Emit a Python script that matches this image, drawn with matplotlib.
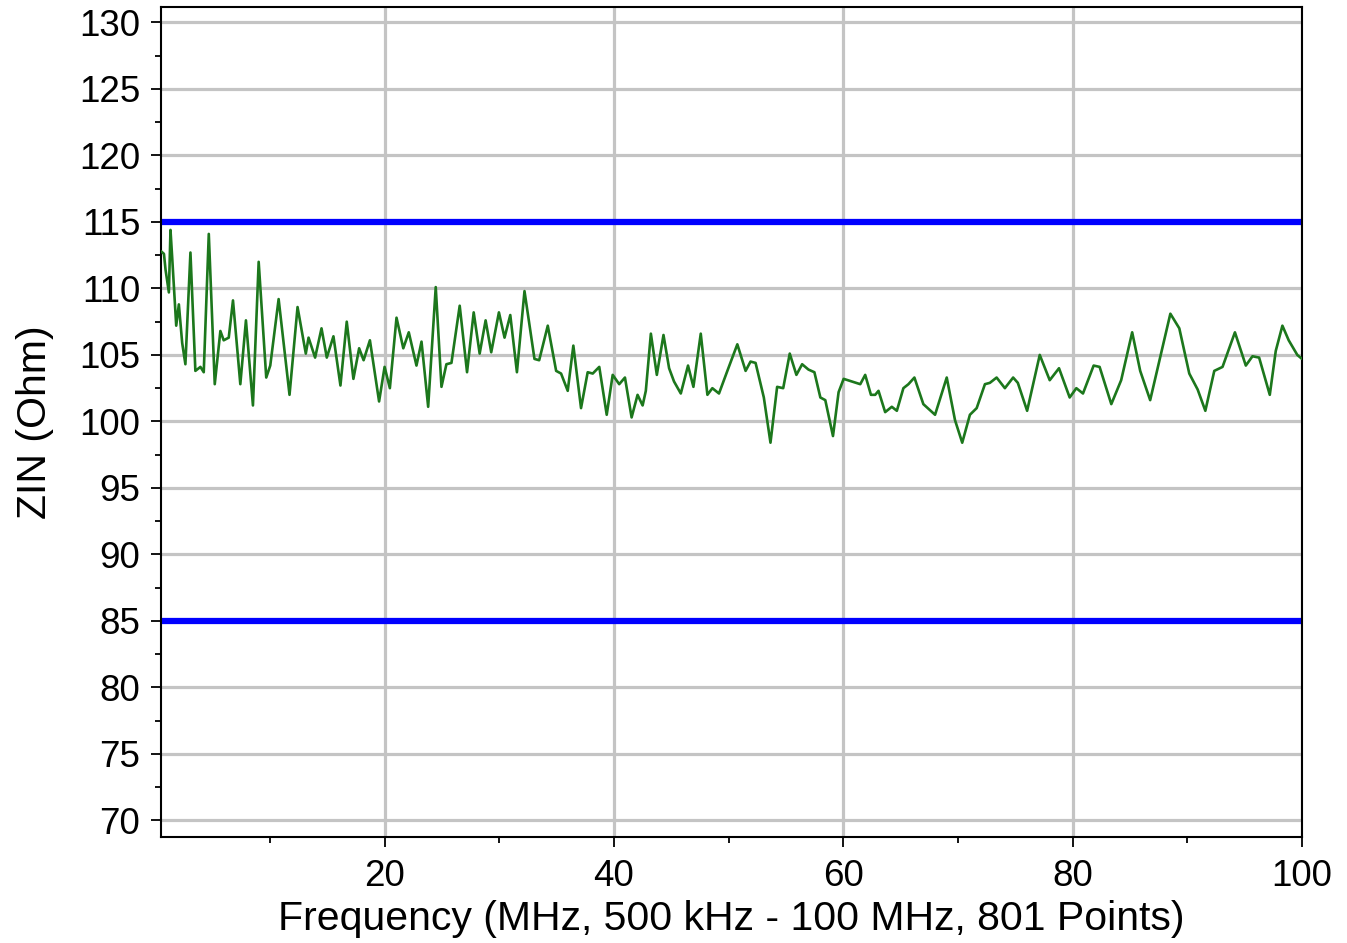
import matplotlib
matplotlib.use("Agg")
import matplotlib.pyplot as plt
from matplotlib.ticker import MultipleLocator

plt.rcParams['font.family'] = ['Liberation Sans', 'DejaVu Sans']

# Frequency (MHz) and input impedance (Ohm)
freq_mhz = [
    0.5, 0.76, 0.90, 1.19, 1.33, 1.48, 1.83, 2.06, 2.35, 2.63, 3.07, 3.50, 3.94,
    4.23, 4.67, 5.19, 5.68, 5.97, 6.41, 6.78, 7.42, 7.91, 8.52, 9.02, 9.68,
    10.03, 10.76, 11.71, 12.41, 13.13, 13.37, 13.94, 14.50, 14.96, 15.54,
    16.15, 16.70, 17.28, 17.78, 18.17, 18.72, 19.52, 20.0, 20.46, 21.04,
    21.63, 22.11, 22.78, 23.22, 23.80, 24.46, 24.96, 25.39, 25.83, 26.55,
    27.19, 27.77, 28.29, 28.81, 29.30, 29.97, 30.46, 30.96, 31.54, 32.20,
    33.07, 33.48, 34.23, 34.96, 35.39, 35.97, 36.46, 37.13, 37.71, 38.15,
    38.72, 39.37, 39.89, 40.46, 40.96, 41.54, 42.06, 42.50, 42.78, 43.22,
    43.74, 44.32, 44.81, 45.24, 45.83, 46.46, 46.93, 47.57, 48.15, 48.58,
    49.16, 49.89, 50.76, 51.48, 51.91, 52.35, 53.07, 53.65, 54.23, 54.76,
    55.33, 55.91, 56.41, 56.96, 57.48, 58.0, 58.43, 59.10, 59.59, 60.03,
    61.48, 61.91, 62.41, 62.78, 63.07, 63.65, 64.23, 64.67, 65.24, 65.68,
    66.20, 66.98, 68.0, 69.02, 69.74, 70.37, 71.04, 71.63, 72.35, 72.78,
    73.37, 74.09, 74.81, 75.22, 76.03, 76.55, 77.13, 78.0, 78.81, 79.74,
    80.32, 80.90, 81.83, 82.35, 83.37, 84.23, 85.19, 85.89, 86.76, 87.71,
    88.52, 89.30, 90.17, 90.90, 91.57, 92.35, 93.07, 94.15, 95.10, 95.68,
    96.26, 97.19, 97.71, 98.29, 98.84, 99.59, 100.0,
]
zin_ohm = [
    112.8, 112.6, 111.4, 109.7, 114.4, 112.3, 107.2, 108.8, 105.9, 104.3, 112.7, 103.8, 104.1,
    103.7, 114.1, 102.8, 106.8, 106.1, 106.3, 109.1, 102.8, 107.6, 101.2, 112.0, 103.3,
    104.2, 109.2, 102.0, 108.6, 105.1, 106.3, 104.8, 107.0, 104.8, 106.4,
    102.7, 107.5, 103.2, 105.5, 104.6, 106.1, 101.5, 104.1, 102.5, 107.8,
    105.5, 106.7, 104.2, 106.0, 101.1, 110.1, 102.6, 104.3, 104.4, 108.7,
    103.7, 108.2, 105.1, 107.6, 105.2, 108.2, 106.3, 108.0, 103.7, 109.8,
    104.7, 104.6, 107.2, 103.8, 103.6, 102.3, 105.7, 101.0, 103.7, 103.6,
    104.1, 100.5, 103.5, 102.8, 103.3, 100.3, 102.0, 101.2, 102.3, 106.6,
    103.5, 106.5, 104.0, 103.0, 102.1, 104.2, 102.6, 106.6, 102.0, 102.5,
    102.1, 103.8, 105.8, 103.8, 104.5, 104.4, 101.8, 98.4, 102.6, 102.5,
    105.1, 103.5, 104.3, 103.9, 103.7, 101.8, 101.6, 98.9, 102.2, 103.2,
    102.8, 103.5, 102.0, 102.0, 102.3, 100.7, 101.1, 100.8, 102.5, 102.8,
    103.3, 101.3, 100.5, 103.3, 100.1, 98.4, 100.5, 101.0, 102.8, 102.9,
    103.3, 102.5, 103.3, 102.9, 100.8, 102.8, 105.0, 103.1, 104.0, 101.8,
    102.5, 102.1, 104.2, 104.1, 101.3, 103.1, 106.7, 103.8, 101.6, 105.1,
    108.1, 107.0, 103.6, 102.4, 100.8, 103.8, 104.1, 106.7, 104.2, 104.9,
    104.8, 102.0, 105.3, 107.2, 106.1, 105.0, 104.7,
]
limit_upper = 115
limit_lower = 85
x_major_ticks = [20, 40, 60, 80, 100]
y_major_ticks = [70, 75, 80, 85, 90, 95, 100, 105, 110, 115, 120, 125, 130]

fig = plt.figure(figsize=(13.47, 9.43), dpi=100)
ax = fig.add_axes([0.1195, 0.1124, 0.8471, 0.8800])

ax.set_xlim(0.5, 100)
ax.set_ylim(68.75, 131.15)

ax.grid(True, which='major', color='#c4c4c4', linewidth=2.3, zorder=0)
ax.set_axisbelow(True)

ax.axhline(limit_upper, color='#0000ff', linewidth=4.5, zorder=2)
ax.axhline(limit_lower, color='#0000ff', linewidth=4.5, zorder=2)
ax.plot(freq_mhz, zin_ohm, color='#1c771c', linewidth=1.9, zorder=3,
        solid_joinstyle='round', solid_capstyle='round')

ax.set_xticks(x_major_ticks)
ax.set_yticks(y_major_ticks)
ax.xaxis.set_minor_locator(MultipleLocator(10))
ax.yaxis.set_minor_locator(MultipleLocator(2.5))

ax.tick_params(axis='both', which='major', direction='out', length=7, width=1.3,
               labelsize=26.5, colors='black')
ax.tick_params(axis='both', which='minor', direction='out', length=4, width=1.3)
ax.tick_params(axis='y', which='major', pad=8)
ax.tick_params(axis='x', which='major', pad=9)

for sp in ax.spines.values():
    sp.set_color('black')
    sp.set_linewidth(1.5)

ax.set_xlabel('Frequency (MHz, 500 kHz - 100 MHz, 801 Points)', fontsize=29.5, labelpad=4)
ax.set_ylabel('ZIN (Ohm)', fontsize=29.5, labelpad=18)

fig.savefig('out.png', dpi=100, facecolor='white')
